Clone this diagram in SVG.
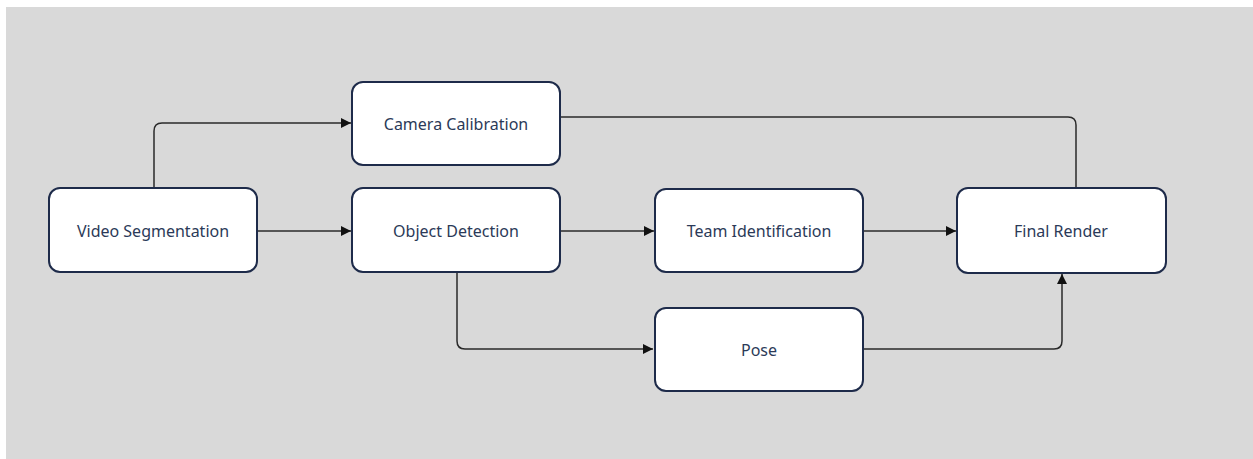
<svg xmlns="http://www.w3.org/2000/svg" width="1253" height="459" viewBox="0 0 1253 459">
<defs>
<style>
.node rect{fill:#ffffff;stroke:#1e2b4a;stroke-width:2}
.node text{font-family:"Noto Sans","Liberation Sans",sans-serif;font-size:16px;fill:#2b3a58;text-anchor:middle;dominant-baseline:central}
.edge{fill:none;stroke:#2a2a2a;stroke-width:1.5}
</style>
<marker id="arr" viewBox="0 0 10 10" refX="10" refY="5" markerWidth="10" markerHeight="10" markerUnits="userSpaceOnUse" orient="auto">
<path d="M0,0 L10,5 L0,10 z" fill="#111"/>
</marker>
</defs>
<rect x="0" y="0" width="1253" height="459" fill="#ffffff"/>
<rect x="6" y="7" width="1247" height="452" fill="#d9d9d9"/>
<g id="connectors">
<path class="edge" d="M154,188 V131 Q154,123 162,123 H351" marker-end="url(#arr)"/>
<path class="edge" d="M257,231 H351" marker-end="url(#arr)"/>
<path class="edge" d="M560,117 H1068 Q1076,117 1076,125 V188"/>
<path class="edge" d="M560,231 H654" marker-end="url(#arr)"/>
<path class="edge" d="M863,231 H956" marker-end="url(#arr)"/>
<path class="edge" d="M457,272 V341 Q457,349 465,349 H653" marker-end="url(#arr)"/>
<path class="edge" d="M863,349 H1054 Q1062,349 1062,341 V274" marker-end="url(#arr)"/>
</g>
<g id="video-segmentation" class="node"><rect x="49" y="188" width="208" height="84" rx="11"/><text x="153" y="231">Video Segmentation</text></g>
<g id="camera-calibration" class="node"><rect x="352" y="82" width="208" height="83" rx="11"/><text x="456" y="124">Camera Calibration</text></g>
<g id="object-detection" class="node"><rect x="352" y="188" width="208" height="84" rx="11"/><text x="456" y="231">Object Detection</text></g>
<g id="team-identification" class="node"><rect x="655" y="189" width="208" height="83" rx="11"/><text x="759" y="231">Team Identification</text></g>
<g id="final-render" class="node"><rect x="957" y="188" width="209" height="85" rx="11"/><text x="1061" y="231">Final Render</text></g>
<g id="pose" class="node"><rect x="655" y="308" width="208" height="83" rx="11"/><text x="759" y="350">Pose</text></g>
</svg>
